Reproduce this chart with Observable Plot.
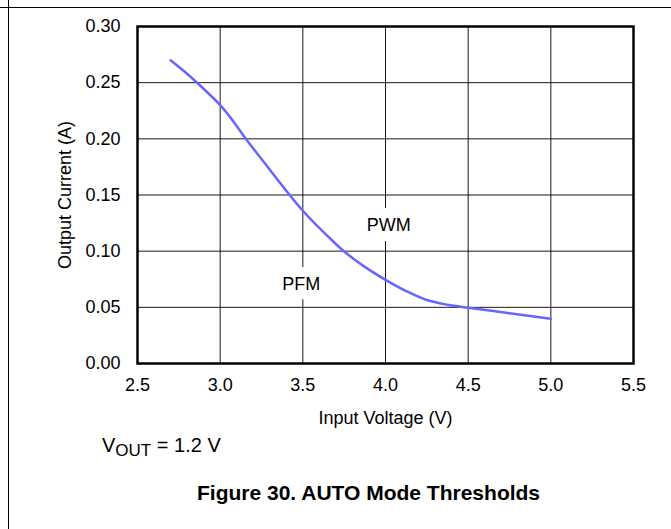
<!DOCTYPE html>
<html><head><meta charset="utf-8">
<script src="https://cdn.jsdelivr.net/npm/d3@7"></script>
<script src="https://cdn.jsdelivr.net/npm/@observablehq/plot@0.6"></script>
<style>
html,body{margin:0;padding:0;background:#fff;}
#page{position:relative;width:671px;height:529px;overflow:hidden;font-family:"Liberation Sans",Arial,sans-serif;color:#000;background:#fff;}
#chart{position:absolute;left:0;top:0;}
#hline{position:absolute;left:0;top:7px;width:671px;height:1px;background:#000;}
#vline{position:absolute;left:8px;top:0;width:1px;height:529px;background:#000;}
#note{position:absolute;left:102px;top:435px;font-size:20px;line-height:1;white-space:nowrap;}
#note sub{font-size:17px;vertical-align:-4px;line-height:0;}
#caption{position:absolute;left:197px;top:482px;font-size:21px;font-weight:bold;line-height:1;white-space:nowrap;}
</style></head><body>
<div id="page">
  <div id="chart"></div>
  <div id="hline"></div>
  <div id="vline"></div>
  <div id="note">V<sub>OUT</sub> = 1.2 V</div>
  <div id="caption">Figure 30. AUTO Mode Thresholds</div>
</div>
<script>
// Data
const inputVoltage  = [2.70, 2.80, 2.86, 3.00, 3.08, 3.155, 3.25, 3.50, 3.667, 3.75, 3.875, 4.00, 4.125, 4.25, 4.375, 4.50, 4.75, 5.00];
const outputCurrent = [0.270, 0.258, 0.250, 0.230, 0.2155, 0.200, 0.182, 0.136, 0.111, 0.0997, 0.086, 0.0745, 0.0645, 0.0565, 0.0523, 0.0496, 0.0448, 0.0398];
const xTicks = [2.5, 3.0, 3.5, 4.0, 4.5, 5.0, 5.5];
const yTicks = [0.00, 0.05, 0.10, 0.15, 0.20, 0.25, 0.30];
const regionLabels  = ["PWM", "PFM"];
const regionVoltage = [4.02, 3.49];
const regionCurrent = [0.123, 0.071];

const curve = inputVoltage.map((v, i) => ({v, a: outputCurrent[i]}));
const regions = regionLabels.map((t, i) => ({t, v: regionVoltage[i], a: regionCurrent[i]}));

const chart = Plot.plot({
  width: 671,
  height: 440,
  marginLeft: 137,
  marginRight: 38,
  marginTop: 26,
  marginBottom: 77,
  style: {fontFamily: "'Liberation Sans', Arial, sans-serif", fontSize: "18px", background: "transparent", color: "#000"},
  x: {domain: [2.5, 5.5], ticks: xTicks, tickFormat: d3.format(".1f"), tickSize: 0, tickPadding: 15,
      label: "Input Voltage (V)", labelAnchor: "center", labelOffset: 60, labelArrow: "none"},
  y: {domain: [0, 0.30], ticks: yTicks, tickFormat: d3.format(".2f"), tickSize: 0, tickPadding: 17,
      label: "Output Current (A)", labelAnchor: "center", labelOffset: 79, labelArrow: "none"},
  marks: [
    Plot.gridX(xTicks, {stroke: "#000", strokeOpacity: 0.9, strokeWidth: 1}),
    Plot.gridY(yTicks, {stroke: "#000", strokeOpacity: 0.9, strokeWidth: 1}),
    Plot.text(regions, {x: "v", y: "a", text: "t", fontSize: 18, fill: "#000", stroke: "#fff", strokeWidth: 20}),
    Plot.line(curve, {x: "v", y: "a", stroke: "#6666ff", strokeWidth: 2.5, curve: "catmull-rom"}),
    Plot.frame({stroke: "#000", strokeWidth: 2.5})
  ]
});
document.getElementById("chart").appendChild(chart);
</script>
</body></html>
